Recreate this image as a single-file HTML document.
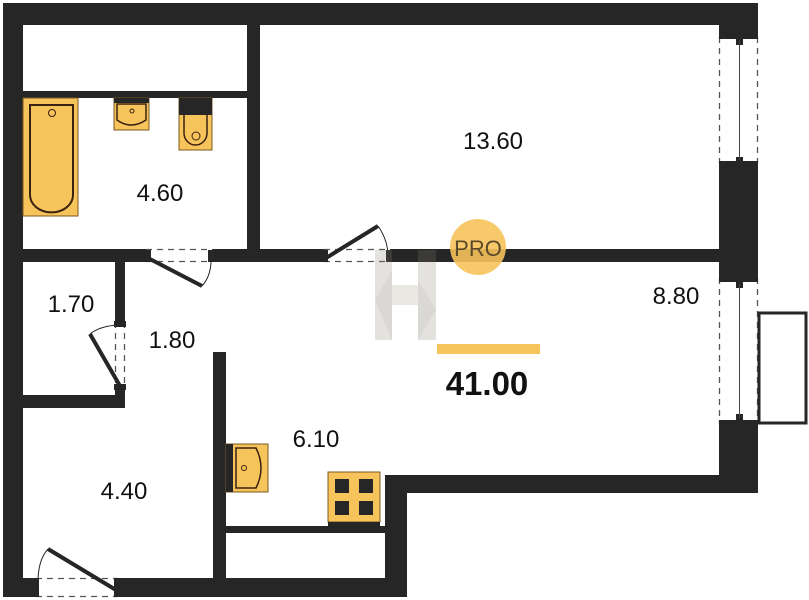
<!DOCTYPE html>
<html><head><meta charset="utf-8"><style>
body{margin:0;background:#fff;}
svg{display:block}
text{font-family:"Liberation Sans",sans-serif;}
</style></head><body>
<svg width="809" height="600" viewBox="0 0 809 600" xmlns="http://www.w3.org/2000/svg">
<g fill="#262626">
<rect x="3" y="3" width="755" height="22"/>
<rect x="3" y="3" width="20" height="594"/>
<rect x="719" y="3" width="39" height="34"/>
<rect x="719" y="163" width="39" height="115"/>
<rect x="719" y="424" width="39" height="69"/>
<rect x="385" y="475" width="373" height="18"/>
<rect x="385" y="475" width="22" height="122"/>
<rect x="118" y="578" width="289" height="19"/>
<rect x="3" y="578" width="33" height="19"/>
<rect x="23" y="91" width="224" height="7"/>
<rect x="247" y="25" width="13" height="237"/>
<rect x="23" y="249" width="123" height="13"/>
<rect x="213" y="249" width="111" height="13"/>
<rect x="390" y="249" width="330" height="13"/>
<rect x="115" y="262" width="10" height="60"/>
<rect x="115" y="388" width="10" height="20"/>
<rect x="23" y="395" width="102" height="13"/>
<rect x="213" y="352" width="13" height="230"/>
<rect x="226" y="526" width="159" height="7"/>
</g>
<g stroke="#555" stroke-dasharray="6,5" fill="none" stroke-width="1.3">
<line x1="719.5" y1="37" x2="719.5" y2="163"/><line x1="757.5" y1="37" x2="757.5" y2="163"/>
<line x1="719.5" y1="278" x2="719.5" y2="424"/><line x1="757.5" y1="278" x2="757.5" y2="424"/>
<line x1="146" y1="249.5" x2="213" y2="249.5"/><line x1="146" y1="261.5" x2="213" y2="261.5"/>
<line x1="324" y1="249.5" x2="390" y2="249.5"/><line x1="324" y1="261.5" x2="390" y2="261.5"/>
<line x1="115.5" y1="322" x2="115.5" y2="388"/><line x1="124.5" y1="322" x2="124.5" y2="388"/>
<line x1="36" y1="578.5" x2="118" y2="578.5"/><line x1="36" y1="596.5" x2="118" y2="596.5"/>
</g>
<g fill="#262626">
<rect x="719" y="35" width="39" height="4"/><rect x="719" y="161" width="39" height="4"/>
<rect x="719" y="278" width="39" height="4"/><rect x="719" y="420" width="39" height="4"/>
<rect x="736" y="39" width="7" height="6"/><rect x="736" y="157" width="7" height="6"/>
<rect x="736" y="282" width="7" height="6"/><rect x="736" y="414" width="7" height="6"/>
</g>
<line x1="739.5" y1="40" x2="739.5" y2="160" stroke="#444" stroke-width="1"/>
<line x1="739.5" y1="284" x2="739.5" y2="418" stroke="#444" stroke-width="1"/>
<rect x="759" y="313" width="47" height="110" fill="none" stroke="#262626" stroke-width="3"/>
<g stroke="#262626" stroke-width="4" fill="none">
<line x1="148" y1="258" x2="202" y2="286"/>
<line x1="326" y1="258" x2="378" y2="226"/>
<line x1="120" y1="386" x2="90" y2="334"/>
<line x1="48" y1="549" x2="116" y2="590"/>
</g>
<g stroke="#262626" stroke-width="1" fill="none">
<path d="M202 286 Q212 275 211 256"/>
<path d="M378 226 Q388 240 388 256"/>
<path d="M90 334 Q100 326 118 325"/>
<path d="M48 549 Q38 560 38 582"/>
</g>
<g fill="#262626">
<rect x="145" y="250" width="6" height="12"/><rect x="208" y="250" width="6" height="12"/>
<rect x="322" y="250" width="6" height="12"/><rect x="386" y="250" width="6" height="12"/>
<rect x="114" y="321" width="12" height="6"/><rect x="114" y="384" width="12" height="6"/>
<rect x="34" y="578" width="5" height="19"/><rect x="114" y="578" width="5" height="19"/>
</g>
<rect x="23" y="98" width="55" height="118" fill="#f7c35b" stroke="#7a5a20" stroke-width="1"/>
<path d="M30 105 H73 V195 A21 17 0 0 1 30 195 Z" fill="none" stroke="#3a2210" stroke-width="2"/>
<circle cx="52" cy="113" r="3.5" fill="none" stroke="#3a2210" stroke-width="1"/>
<rect x="114" y="98" width="35" height="32" fill="#f7c35b" stroke="#7a5a20" stroke-width="1"/>
<rect x="114" y="98" width="35" height="5" fill="#262626"/>
<path d="M117 104 H146 V120 Q131 130 117 120 Z" fill="none" stroke="#3a2210" stroke-width="1.5"/>
<circle cx="132" cy="111" r="2" fill="none" stroke="#3a2210"/>
<rect x="179" y="98" width="33" height="52" fill="#f7c35b" stroke="#7a5a20" stroke-width="1"/>
<rect x="179" y="98" width="33" height="17" fill="#262626"/>
<path d="M184 115 V133 A11.5 12 0 0 0 207 133 V115" fill="none" stroke="#3a2210" stroke-width="1.5"/>
<circle cx="196" cy="136" r="4" fill="none" stroke="#3a2210"/>
<rect x="226" y="444" width="42" height="48" fill="#f7c35b" stroke="#7a5a20" stroke-width="1"/>
<rect x="226" y="444" width="7" height="48" fill="#262626"/>
<path d="M236 448 H256 Q266 468 256 488 H236 Z" fill="none" stroke="#3a2210" stroke-width="1.5"/>
<circle cx="244" cy="468" r="2.5" fill="none" stroke="#3a2210"/>
<rect x="328" y="472" width="52" height="50" fill="#f7c35b" stroke="#7a5a20" stroke-width="1"/>
<rect x="328" y="522" width="52" height="5" fill="#262626"/>
<g fill="#262626">
<rect x="335" y="479" width="14" height="14"/><rect x="359" y="479" width="14" height="14"/>
<rect x="335" y="501" width="14" height="14"/><rect x="359" y="501" width="14" height="14"/>
</g>
<g opacity="0.22">
<polygon points="375,250 392,250 392,340 375,340" fill="#8a8070"/>
<polygon points="418,250 436,250 436,340 418,340" fill="#8a8070"/>
<polygon points="392,285 418,285 418,305 392,305" fill="#a89c88"/>
<polygon points="375,300 392,270 392,340" fill="#5a5040"/>
<polygon points="418,280 436,310 418,340" fill="#5a5040"/>
</g>
<circle cx="478" cy="247" r="28" fill="#f7c35b" opacity="0.9"/>
<text x="478" y="256" font-size="22" fill="#5a4a2a" text-anchor="middle">PRO</text>
<rect x="437" y="344" width="103" height="10" fill="#f7c35b"/>
<g font-size="24" fill="#111" text-anchor="middle">
<text x="493" y="149">13.60</text>
<text x="160" y="201">4.60</text>
<text x="71" y="312">1.70</text>
<text x="172" y="348">1.80</text>
<text x="676" y="304">8.80</text>
<text x="316" y="447">6.10</text>
<text x="124" y="499">4.40</text>
</g>
<text x="487" y="395" font-size="33" font-weight="bold" fill="#111" text-anchor="middle">41.00</text>
</svg>
</body></html>
